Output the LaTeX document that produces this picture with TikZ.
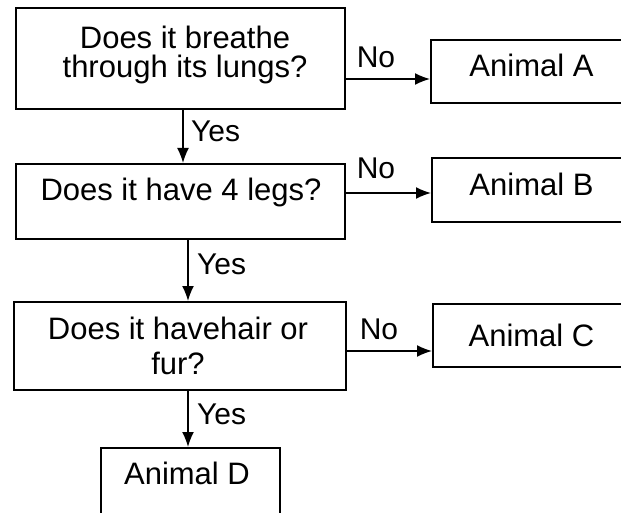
\documentclass[tikz,border=0pt]{standalone}
\usepackage{fontspec}
\setmainfont{Liberation Sans}
\usetikzlibrary{arrows.meta}
\begin{document}
\begin{tikzpicture}[x=1pt,y=-1pt,
  box/.style={draw, line width=2pt, inner sep=0pt},
  txt/.style={inner sep=0pt, font=\fontsize{31}{29}\selectfont, align=center},
  lbl/.style={inner sep=0pt, font=\fontsize{30}{30}\selectfont},
  arr/.style={line width=1.6pt, -{Latex[length=15pt,width=12pt]}}]
\useasboundingbox (0,0) rectangle (621,513);
\clip (0,0) rectangle (621,513);
% question boxes
\node[box, minimum width=329pt, minimum height=101pt, anchor=north west] (q1) at (15,7) {};
\node[box, minimum width=329pt, minimum height=75pt, anchor=north west] (q2) at (15,163) {};
\node[box, minimum width=332pt, minimum height=88pt, anchor=north west] (q3) at (13,301) {};
% answer boxes
\node[box, minimum width=250pt, minimum height=63pt, anchor=north west] (aA) at (430,39) {};
\node[box, minimum width=250pt, minimum height=64pt, anchor=north west] (aB) at (431,157) {};
\node[box, minimum width=250pt, minimum height=63pt, anchor=north west] (aC) at (432,303) {};
\node[box, minimum width=179pt, minimum height=120pt, anchor=north west] (aD) at (100,447) {};
% texts
\node[txt, anchor=north] (t1) at (185,25.5) {Does it breathe\\through its lungs?};
\node[txt, anchor=base] (t2) at (181,201) {Does it have 4 legs?};
\node[txt, font=\fontsize{31}{35}\selectfont, anchor=north] (t3) at (178,316.5) {Does it havehair or\\fur?};
\node[txt, anchor=base] (tA) at (531.5,77) {Animal A};
\node[txt, anchor=base] (tB) at (531.5,196) {Animal B};
\node[txt, anchor=base] (tC) at (531.5,346) {Animal C};
\node[txt, anchor=base] (tD) at (187,484) {Animal D};
% connectors
\draw[arr] (q1.east |- 0,79) -- (aA.west |- 0,79);
\draw[arr] (q2.east |- 0,193) -- (aB.west |- 0,193);
\draw[arr] (q3.east |- 0,351) -- (aC.west |- 0,351);
\draw[arr] (q1.south -| 183,0) -- (q2.north -| 183,0);
\draw[arr] (q2.south -| 188,0) -- (q3.north -| 188,0);
\draw[arr] (q3.south -| 188,0) -- (aD.north -| 188,0);
% labels
\node[lbl, anchor=base] (n1) at (376,68) {No};
\node[lbl, anchor=base] (n2) at (376,179) {No};
\node[lbl, anchor=base] (n3) at (379,339) {No};
\node[lbl, anchor=base west] (y1) at (191,142) {Yes};
\node[lbl, anchor=base west] (y2) at (197,274) {Yes};
\node[lbl, anchor=base west] (y3) at (197,424) {Yes};
\end{tikzpicture}
\end{document}
